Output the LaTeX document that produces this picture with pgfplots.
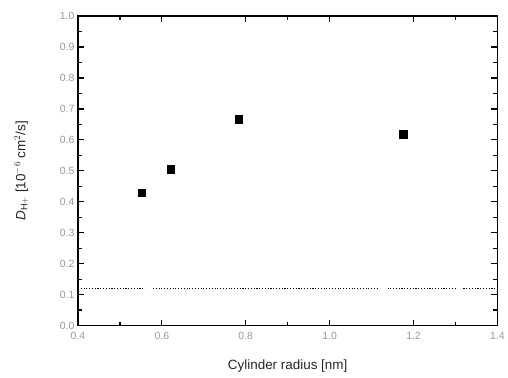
\documentclass[border=0pt]{standalone}
\usepackage{pgfplots}
\pgfplotsset{compat=1.18}
\usepackage{fontspec}
\setmainfont{Liberation Sans}
\begin{document}
\begin{tikzpicture}[x=1bp,y=1bp]
\begin{axis}[
  scale only axis,
  width=420bp, height=310bp,
  xmin=0.4, xmax=1.4, ymin=0, ymax=1.0,
  xtick={0.4,0.6,0.8,1.0,1.2,1.4},
  minor xtick={0.5,0.9,1.3},
  ytick={0,0.1,...,1.0},
  minor ytick={0.05,0.15,...,0.95},
  tick align=inside,
  major tick length=6bp, minor tick length=4bp,
  every tick/.style={black, line width=1.3pt},
  axis line style={line width=1.3pt},
  xticklabel style={font=\fontsize{10.5}{12}\selectfont, text=gray!80, yshift=-3bp},
  yticklabel style={font=\fontsize{10.5}{12}\selectfont, text=gray!80},
  /pgf/number format/assume math mode=true,
  /pgf/number format/fixed, /pgf/number format/fixed zerofill, /pgf/number format/precision=1,
  xlabel={Cylinder radius [nm]},
  ylabel={\textit{D}$_{\mathrm{H+}}$ [10$^{-6}$ cm$^{2}$/s]},
  label style={font=\fontsize{13.5}{15}\selectfont, text=black!85},
  xlabel style={at={(0.5,-0.1)}, anchor=north},
  ylabel style={at={(-0.11,0.5)}},
  unbounded coords=jump,
]
\addplot[only marks, mark=square*, mark size=3.8bp, black] coordinates {
  (0.552,0.429) (0.621,0.505) (0.783,0.667) (1.175,0.618)
};
\addplot[black, line width=1.6pt, dash pattern=on 1.1bp off 1.7bp] coordinates {
  (0.4,0.12) (0.56,0.12) (0.56,nan) (0.579,0.12) (1.119,0.12) (1.119,nan)
  (1.138,0.12) (1.302,0.12) (1.302,nan) (1.319,0.12) (1.4,0.12)
};
\end{axis}
\path[use as bounding box] ([shift={(-78bp,-52bp)}]current axis.south west) rectangle ([shift={(10bp,16bp)}]current axis.north east);
\end{tikzpicture}
\end{document}
